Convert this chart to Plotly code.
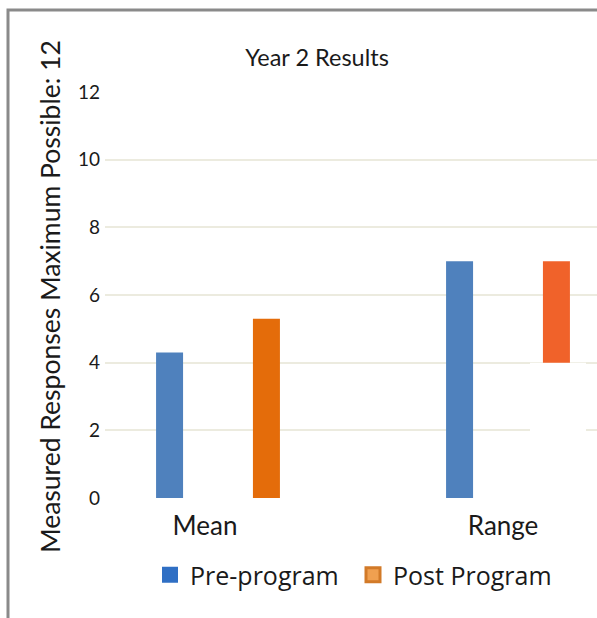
import plotly.graph_objects as go

# Data
categories = ["Mean", "Range"]
cat_pos = [0, 1]
label_pos = [-0.045, 0.983]
pre_program = [4.3, 7.0]
post_low = [0.0, 4.0]    # floating-bar base (hidden white segment)
post_high = [5.3, 7.0]
y_ticks = [0, 2, 4, 6, 8, 10, 12]

BLUE = "#4f81bd"
ORANGE_MEAN = "#e46c0a"
ORANGE_RANGE = "#f0622a"
GRID = "#ecebdf"
FONT = "Lato"

# plot area in pixels: x 105..597, y 92..498
L, R, T, B = 105, 597, 92, 498
W, H = R - L, B - T
px_unit = 290.0          # pixels per category step
x0 = (L - 218) / px_unit
x1 = (R - 218) / px_unit

def px2paper_x(px):
    return (px - L) / W

def px2paper_y(py):
    return (B - py) / H

fig = go.Figure()

bar_w = 27 / px_unit
fig.add_trace(go.Bar(
    x=cat_pos, y=pre_program, width=bar_w, offset=-0.167 - bar_w / 2,
    marker=dict(color=BLUE, line=dict(width=0)), showlegend=False,
    name="Pre-program"))

# white base segment of the floating bar (covers gridlines, as in a stacked chart)
base_w = 56 / px_unit
fig.add_trace(go.Bar(
    x=cat_pos, y=post_low, width=base_w, offset=(530 - 508) / px_unit,
    marker=dict(color="white", line=dict(width=0)), showlegend=False,
    hoverinfo="skip"))

post_height = [h - l for h, l in zip(post_high, post_low)]
fig.add_trace(go.Bar(
    x=cat_pos, y=post_height, base=post_low, width=bar_w,
    offset=0.167 - bar_w / 2,
    marker=dict(color=[ORANGE_MEAN, ORANGE_RANGE], line=dict(width=0)),
    showlegend=False, name="Post Program"))

# legend entries
fig.add_trace(go.Scatter(
    x=[None], y=[None], mode="markers", name="Pre-program",
    marker=dict(symbol="square", size=17, color="#2f6fc4",
                line=dict(width=0))))
fig.add_trace(go.Scatter(
    x=[None], y=[None], mode="markers", name="Post Program",
    marker=dict(symbol="square", size=14, color="#f0a050",
                line=dict(width=3, color="#d27a28"))))

fig.update_layout(
    width=597, height=618,
    margin=dict(l=L, r=597 - R, t=T, b=618 - B, pad=0, autoexpand=False),
    paper_bgcolor="white", plot_bgcolor="white",
    barmode="overlay",
    font=dict(family=FONT, color="#222222"),
    title=dict(text="Year 2 Results", xref="container", x=317 / 597,
               xanchor="center", yref="container", y=1 - 58 / 618,
               yanchor="middle", font=dict(size=23.5, color="#1a1a1a")),
    xaxis=dict(range=[x0, x1], tickvals=label_pos, ticktext=categories,
               showgrid=False, zeroline=False, showline=False, ticks="",
               automargin=False, tickangle=0, ticklabelstandoff=10,
               tickfont=dict(size=26, color="#1a1a1a")),
    yaxis=dict(range=[0, 12], tickvals=y_ticks, showgrid=True,
               gridcolor=GRID, gridwidth=1.5, zeroline=False,
               showline=False, ticks="", ticklabelstandoff=4,
               automargin=False,
               tickfont=dict(size=19, color="#1a1a1a")),
    legend=dict(orientation="h", xref="container", yref="container",
                x=150 / 597, xanchor="left", y=1 - 575 / 618,
                yanchor="middle", font=dict(family="Open Sans", size=25,
                                            color="#1a1a1a"),
                entrywidth=158, entrywidthmode="pixels",
                itemsizing="trace", bgcolor="rgba(0,0,0,0)"),
    showlegend=True,
)

# rotated axis title
fig.add_annotation(
    text="Measured Responses Maximum Possible: 12",
    xref="paper", yref="paper", x=px2paper_x(50), y=px2paper_y(297),
    textangle=-90, showarrow=False, xanchor="center", yanchor="middle",
    font=dict(family=FONT, size=26.5, color="#1a1a1a"))

# chart frame (left and top edges)
fig.add_shape(
    type="path", xref="paper", yref="paper",
    path=f"M {px2paper_x(8)} {px2paper_y(618)} L {px2paper_x(8)} {px2paper_y(10)} "
         f"L {px2paper_x(597)} {px2paper_y(10)}",
    line=dict(color="#8a8a8a", width=3), layer="above")

fig.write_html("out.html")
